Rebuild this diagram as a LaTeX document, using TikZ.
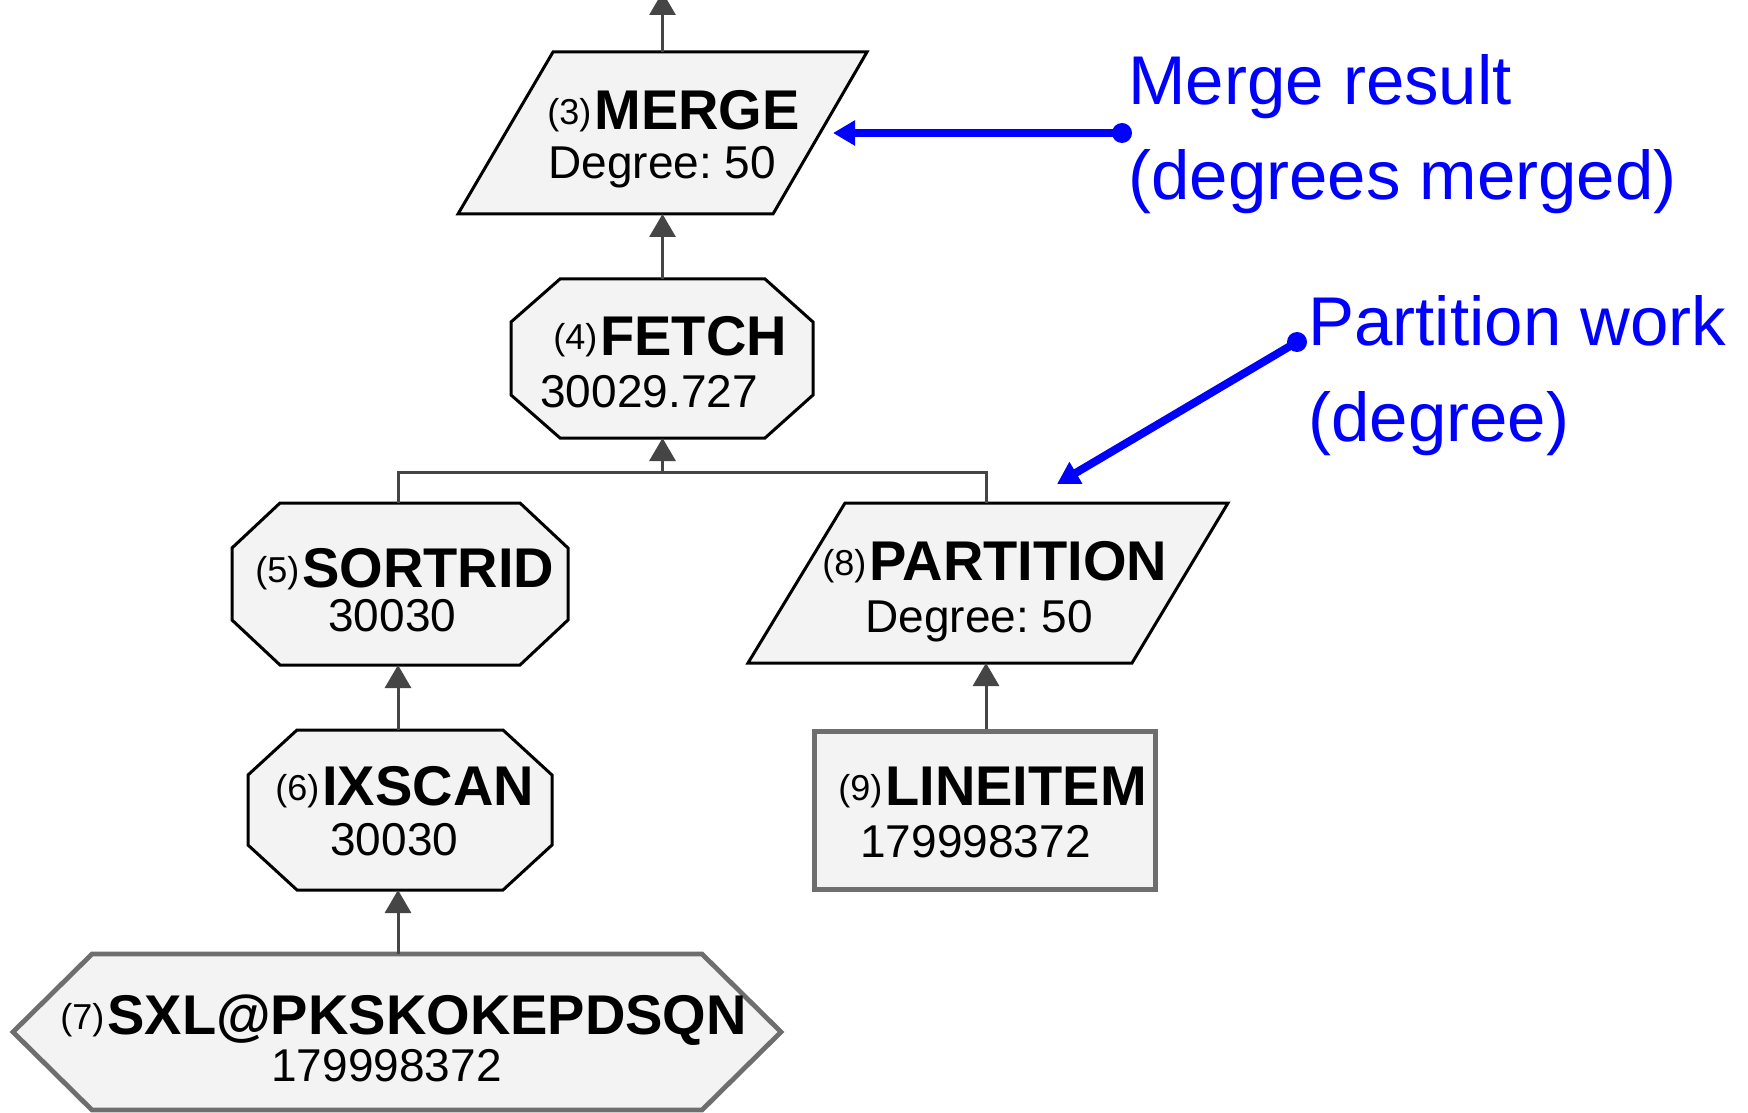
\documentclass[tikz,border=0pt]{standalone}
\usepackage{fontspec}
\setmainfont{Liberation Sans}
\usetikzlibrary{arrows.meta}
\definecolor{nodefill}{HTML}{F3F3F3}
\definecolor{conngray}{HTML}{454545}
\definecolor{framegray}{HTML}{6E6E6E}
\definecolor{annblue}{HTML}{0000FF}
\frenchspacing
\newcommand{\opnum}[1]{\raisebox{2.5pt}{\fontsize{18}{18}\selectfont\mdseries(#1)}\hspace{1.5pt}}
\tikzset{
  shapebox/.style={draw=black, line width=1.5pt, fill=nodefill, line join=miter},
  framebox/.style={draw=framegray, line width=2.4pt, fill=nodefill, line join=miter},
  anchorbox/.style={inner sep=0pt, outer sep=0pt, draw=none},
  titletext/.style={anchor=base west, inner sep=0pt, text depth=0pt, font=\fontsize{28}{28}\selectfont\bfseries},
  valtext/.style={anchor=base west, inner sep=0pt, font=\fontsize{23}{23}\selectfont},
  conn/.style={draw=conngray, line width=1.5pt},
  upconn/.style={conn, -{Triangle[length=11.5pt,width=13pt,fill=conngray]}},
  annot/.style={draw=annblue, line width=4pt, -{Triangle[length=11pt,width=12pt,fill=annblue]}},
  anntext/.style={text=annblue, anchor=base west, inner sep=0pt, font=\fontsize{34.5}{34.5}\selectfont},
}
\begin{document}
\begin{tikzpicture}[x=0.5pt,y=-0.5pt]
\clip (0,0) rectangle (1748,1112);
\fill[white] (0,0) rectangle (1748,1112);

% (3) MERGE
\draw[shapebox] (553,52) -- (867,52) -- (773,214) -- (458,214) -- cycle;
\node[anchorbox, minimum width=204.5pt, minimum height=81pt] (merge) at (662.5,133) {};
\node[titletext] (mergeT) at (547,130) {\opnum{3}MERGE};
\node[valtext] (mergeV) at (548,179) {Degree: 50};

% (4) FETCH
\draw[shapebox] (560,279) -- (765,279) -- (813,322) -- (813,395) -- (765,438) -- (560,438) -- (511,395) -- (511,322) -- cycle;
\node[anchorbox, minimum width=151pt, minimum height=79.5pt] (fetch) at (662.5,358.5) {};
\node[titletext] (fetchT) at (553,355) {\opnum{4}FETCH};
\node[valtext] (fetchV) at (540,407) {30029.727};

% (5) SORTRID
\draw[shapebox] (280,503) -- (520,503) -- (568,548) -- (568,620) -- (520,665) -- (280,665) -- (232,620) -- (232,548) -- cycle;
\node[anchorbox, minimum width=168pt, minimum height=81pt] (sortrid) at (398,584) {};
\node[titletext] (sortridT) at (255,587) {\opnum{5}SORTRID};
\node[valtext] (sortridV) at (328,631) {30030};

% (6) IXSCAN
\draw[shapebox] (297,730) -- (503,730) -- (552,775) -- (552,845) -- (503,890) -- (297,890) -- (248,845) -- (248,775) -- cycle;
\node[anchorbox, minimum width=152pt, minimum height=80pt] (ixscan) at (398,810) {};
\node[titletext] (ixscanT) at (275,805) {\opnum{6}IXSCAN};
\node[valtext] (ixscanV) at (330,855) {30030};

% (7) SXL@PKSKOKEPDSQN
\draw[framebox] (92,954) -- (702,954) -- (781,1032) -- (702,1110) -- (92,1110) -- (13,1032) -- cycle;
\node[anchorbox, minimum width=384pt, minimum height=78pt] (sxl) at (398,1032) {};
\node[titletext] (sxlT) at (60,1034) {\opnum{7}SXL@PKSKOKEPDSQN};
\node[valtext] (sxlV) at (271,1081) {179998372};

% (8) PARTITION
\draw[shapebox] (845,503) -- (1228,503) -- (1132,663) -- (748,663) -- cycle;
\node[anchorbox, minimum width=240pt, minimum height=80pt] (partition) at (986,583) {};
\node[titletext] (partitionT) at (822,580) {\opnum{8}PARTITION};
\node[valtext] (partitionV) at (865,632) {Degree: 50};

% (9) LINEITEM
\draw[framebox] (814.5,731.5) rectangle (1155.5,889.5);
\node[anchorbox, minimum width=173pt, minimum height=81.5pt] (lineitem) at (986,810.5) {};
\node[titletext] (lineitemT) at (838,805) {\opnum{9}LINEITEM};
\node[valtext] (lineitemV) at (860,857) {179998372};

% connectors
\coordinate (topend) at (662.5,-8);
\coordinate (jn) at (662.5,472);
\draw[upconn] (merge.north) -- (topend);
\draw[upconn] (fetch.north) -- (merge.south);
\draw[conn] (sortrid.north) -- (sortrid.north |- jn) -- (partition.north |- jn) -- (partition.north);
\draw[upconn] (jn) -- (fetch.south);
\draw[upconn] (ixscan.north) -- (sortrid.south);
\draw[upconn] (sxl.north) -- (ixscan.south);
\draw[upconn] (lineitem.north) -- (partition.south);

% annotations
\node[anntext] (mergenoteA) at (1128,105) {Merge result};
\node[anntext] (mergenoteB) at (1128,200) {(degrees merged)};
\node[anntext] (partnoteA) at (1308,345) {Partition work};
\node[anntext] (partnoteB) at (1308,441) {(degree)};

\coordinate (mdot) at (1122,133);
\coordinate (mtip) at (833,133);
\coordinate (pdot) at (1297,342);
\coordinate (ptip) at (1057,484);
\draw[annot] (mdot) -- (mtip);
\fill[annblue] (mdot) circle (5pt);
\draw[annot] (pdot) -- (ptip);
\fill[annblue] (pdot) circle (5pt);
\end{tikzpicture}
\end{document}
